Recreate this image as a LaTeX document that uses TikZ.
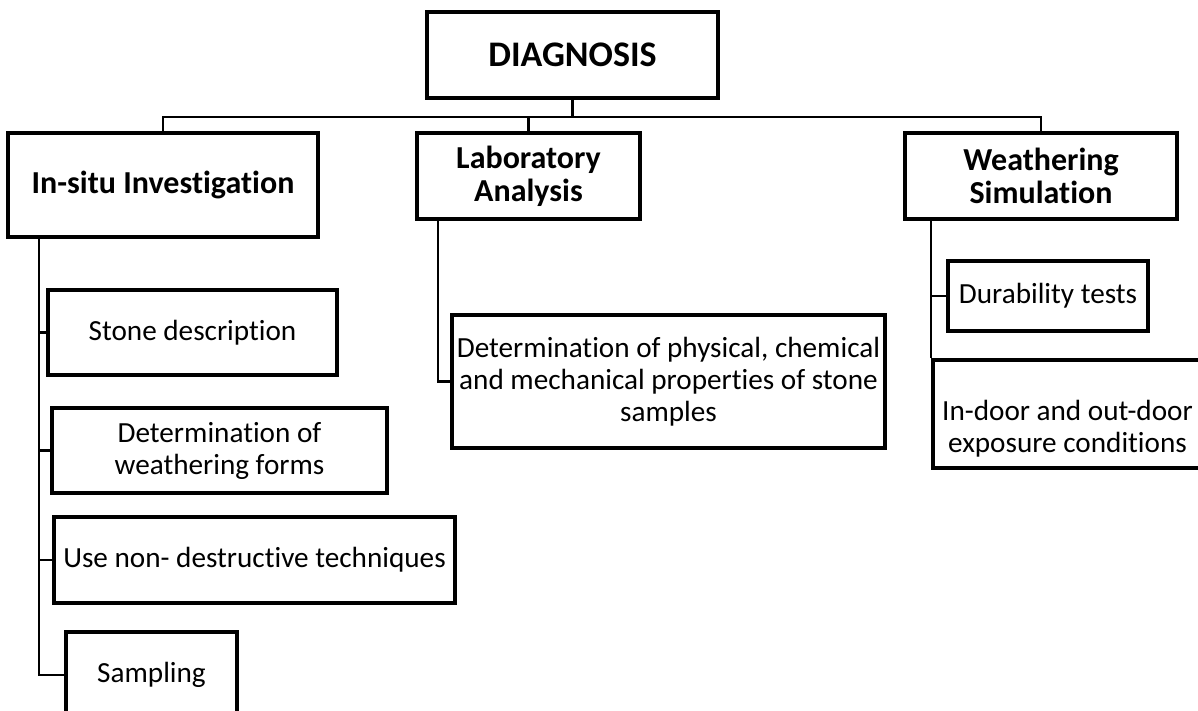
\documentclass[tikz,border=0pt]{standalone}
\usepackage{fontspec}
\setmainfont[Ligatures=NoCommon]{Carlito}
\usetikzlibrary{calc}
\tikzset{
  boite/.style={draw, line width=2pt, align=center, inner sep=0pt, font=\fontsize{14.6}{16}\selectfont},
  titre/.style={boite, font=\bfseries\fontsize{16}{16.5}\selectfont},
  lien/.style={line width=1.1pt}
}
\begin{document}
\begin{tikzpicture}[x=0.5pt,y=-0.5pt]
\useasboundingbox (0,0) rectangle (1198,711);

% Racine
\node[titre, font=\bfseries\fontsize{18}{22}\selectfont, minimum width=145.5pt, minimum height=43pt] (diag) at (572.5,55) {DIAGNOSIS};

% Trois familles
\node[titre, minimum width=155pt, minimum height=52pt] (insitu) at (163,185) {In-situ Investigation};
\node[titre, minimum width=111.5pt, minimum height=43pt] (lab) at (528.5,176) {Laboratory\\Analysis};
\node[titre, minimum width=136pt, minimum height=43pt] (weath) at (1041,176) {Weathering\\Simulation};

% Feuilles
\node[boite, minimum width=144.5pt, minimum height=42.5pt] (stone) at (192.5,332.5) {Stone description};
\node[boite, minimum width=167.5pt, minimum height=42.5pt] (forms) at (219.5,450.5) {Determination of\\weathering forms};
\node[boite, minimum width=200.5pt, minimum height=43pt] (nondes) at (254.5,560) {Use non- destructive techniques};
\node[boite, minimum width=85.5pt, minimum height=43pt] (samp) at (151.5,675) {Sampling};
\node[boite, minimum width=216.5pt, minimum height=66.5pt] (props) at (668.5,381.5) {Determination of physical, chemical\\and mechanical properties of stone\\samples};
\node[boite, minimum width=100pt, minimum height=35pt] (dur) at (1048,296) {Durability tests};
\node[boite, minimum width=134.5pt, minimum height=54pt] (indoor) at (1067.5,414) {\rule{0pt}{25pt}In-door and out-door\\exposure conditions};

% Barre du haut
\coordinate (bus) at ($(diag.south)+(0,17)$);
\draw[lien] (diag.south) -- (bus);
\draw[lien] (insitu.north) |- (bus) -| (weath.north);
\draw[lien] (lab.north) |- (bus);

% Branche gauche
\coordinate (tg) at ($(insitu.south west)+(33,0)$);
\foreach \b in {stone,forms,nondes,samp}
  \draw[lien] (tg) |- (\b.west);

% Branche centre
\draw[lien] ($(lab.south west)+(23,0)$) |- (props.west);

% Branche droite
\coordinate (td) at ($(weath.south west)+(28,0)$);
\draw[lien] (td) |- (dur.west);
\draw[lien] (td) |- (indoor.north west);
\end{tikzpicture}
\end{document}
